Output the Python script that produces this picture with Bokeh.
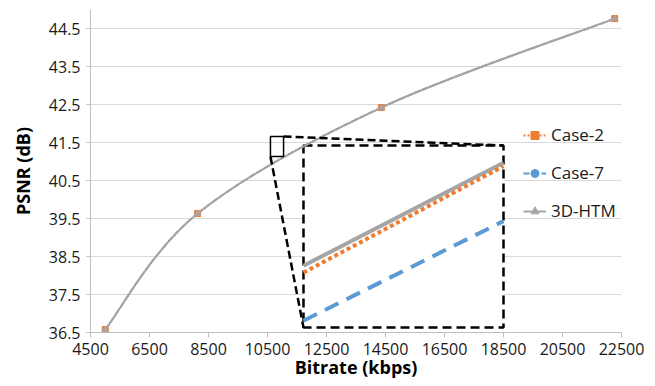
from bokeh.plotting import figure
from bokeh.models import FixedTicker, Legend, LegendItem, Range1d
from bokeh.embed import file_html
from bokeh.resources import INLINE

# ---- data ----
bitrate = [5000, 8130, 14360, 22270]
psnr_case2 = [36.58, 39.63, 42.42, 44.76]
psnr_case7 = [36.58, 39.63, 42.42, 44.76]
psnr_htm = [36.58, 39.63, 42.42, 44.76]

x_ticks = [4500, 6500, 8500, 10500, 12500, 14500, 16500, 18500, 20500, 22500]
y_ticks = [36.5, 37.5, 38.5, 39.5, 40.5, 41.5, 42.5, 43.5, 44.5]

# zoom window (small box) and the enlarged inset, in chart units
zoom_x = [10600, 11045]
zoom_y = [41.13, 41.66]
inset_x = [11720, 18500]
inset_y = [36.63, 41.42]

# values inside the zoom window (shown enlarged in the inset)
inset_bitrate = [10600, 11045]
inset_case2 = [41.29, 41.60]
inset_case7 = [41.15, 41.44]
inset_htm = [41.31, 41.61]

ORANGE = "#ED7D31"
BLUE = "#5B9BD5"
GRAY = "#A5A5A5"
FONT = "Open Sans"


def smooth_segments(xs, ys):
    """Bezier control points for a smoothed line through the points."""
    n = len(xs)
    out = {k: [] for k in ("x0", "y0", "x1", "y1", "cx0", "cy0", "cx1", "cy1")}
    for i in range(n - 1):
        xm, ym = (xs[i - 1], ys[i - 1]) if i > 0 else (xs[i], ys[i])
        xp, yp = (xs[i + 2], ys[i + 2]) if i + 2 < n else (xs[i + 1], ys[i + 1])
        out["x0"].append(xs[i]); out["y0"].append(ys[i])
        out["x1"].append(xs[i + 1]); out["y1"].append(ys[i + 1])
        out["cx0"].append(xs[i] + (xs[i + 1] - xm) / 6)
        out["cy0"].append(ys[i] + (ys[i + 1] - ym) / 6)
        out["cx1"].append(xs[i + 1] - (xp - xs[i]) / 6)
        out["cy1"].append(ys[i + 1] - (yp - ys[i]) / 6)
    return out


def to_inset_x(v):
    return [inset_x[0] + (a - zoom_x[0]) / (zoom_x[1] - zoom_x[0]) * (inset_x[1] - inset_x[0]) for a in v]


def to_inset_y(v):
    return [inset_y[0] + (a - zoom_y[0]) / (zoom_y[1] - zoom_y[0]) * (inset_y[1] - inset_y[0]) for a in v]


p = figure(width=655, height=386,
           x_range=Range1d(4500, 22500), y_range=Range1d(36.5, 45.0),
           output_backend="svg", toolbar_location=None,
           min_border_left=90, min_border_right=34, min_border_top=9, min_border_bottom=54)
p.outline_line_color = None
p.background_fill_color = "white"
p.border_fill_color = "white"

p.xgrid.visible = False
p.ygrid.grid_line_color = "#D9D9D9"
p.ygrid.grid_line_width = 1

p.xaxis.ticker = FixedTicker(ticks=x_ticks)
p.yaxis.ticker = FixedTicker(ticks=y_ticks)
for ax in (p.xaxis[0], p.yaxis[0]):
    ax.axis_line_color = "#BFBFBF"
    ax.major_tick_line_color = "#BFBFBF"
    ax.minor_tick_line_color = None
    ax.major_tick_in = 0
    ax.major_label_text_font = FONT
    ax.major_label_text_font_size = "16px"
    ax.major_label_text_color = "#1a1a1a"
    ax.axis_label_text_font = FONT
    ax.axis_label_text_font_style = "bold"
    ax.axis_label_text_font_size = "18px"
    ax.axis_label_text_color = "black"

p.xaxis.axis_label = "Bitrate (kbps)"
p.yaxis.axis_label = "PSNR (dB)"
p.xaxis.major_tick_out = 5
p.xaxis.major_label_standoff = 5
p.xaxis.axis_label_standoff = -3
p.yaxis.major_tick_out = 4
p.yaxis.major_label_standoff = 6
p.yaxis.axis_label_standoff = 11

# ---- inset (white panel, dashed frame) ----
p.quad(left=[inset_x[0]], right=[inset_x[1]], bottom=[inset_y[0]], top=[inset_y[1]],
       fill_color="white", line_color="black", line_width=2.5, line_dash="9 5")

ix = to_inset_x(inset_bitrate)
p.line(ix, to_inset_y(inset_htm), line_color=GRAY, line_width=4)
p.line(ix, to_inset_y(inset_case2), line_color=ORANGE, line_width=4, line_dash="4 3")
p.line(ix, to_inset_y(inset_case7), line_color=BLUE, line_width=4, line_dash="15 9")

# ---- main series ----
s7 = smooth_segments(bitrate, psnr_case7)
r7l = p.bezier(line_color=BLUE, line_width=1.8, line_dash="6 3", **s7)
r7m = p.scatter(bitrate, psnr_case7, marker="circle", size=4, fill_color=BLUE, line_color=BLUE)

s2 = smooth_segments(bitrate, psnr_case2)
r2l = p.bezier(line_color=ORANGE, line_width=1.8, line_dash="2 2", **s2)
r2m = p.scatter(bitrate, psnr_case2, marker="square", size=6, fill_color=ORANGE, line_color=ORANGE)

sh = smooth_segments(bitrate, psnr_htm)
rhl = p.bezier(line_color=GRAY, line_width=2, **sh)
rhm = p.scatter(bitrate, psnr_htm, marker="triangle", size=6, fill_color=GRAY, line_color=GRAY)

# ---- zoom box and connectors ----
p.quad(left=[zoom_x[0]], right=[zoom_x[1]], bottom=[zoom_y[0]], top=[zoom_y[1]],
       fill_alpha=0, line_color="black", line_width=1.5)
p.line([zoom_x[1], inset_x[1]], [zoom_y[1], inset_y[1]], line_color="black", line_width=2.5, line_dash="8 4")
p.line([zoom_x[0], inset_x[0]], [zoom_y[0], inset_y[0]], line_color="black", line_width=2.5, line_dash="8 4")

legend = Legend(items=[
    LegendItem(label="Case-2", renderers=[r2l, r2m]),
    LegendItem(label="Case-7", renderers=[r7l, r7m]),
    LegendItem(label="3D-HTM", renderers=[rhl, rhm]),
], location=(433, 110))
legend.label_text_font = FONT
legend.label_text_font_size = "17px"
legend.label_text_color = "#1a1a1a"
legend.glyph_width = 23
legend.glyph_height = 20
legend.label_height = 23
legend.label_standoff = 5
legend.spacing = 15
legend.padding = 0
legend.margin = 0
legend.border_line_alpha = 0
legend.background_fill_alpha = 0
p.add_layout(legend)

open("out.html", "w").write(file_html(p, INLINE))
